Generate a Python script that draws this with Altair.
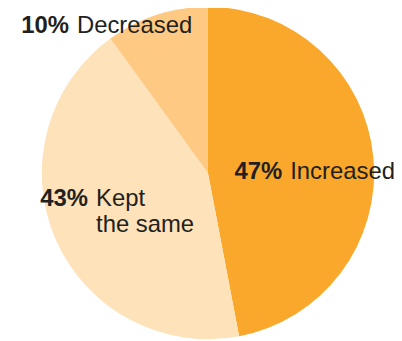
import altair as alt
import pandas as pd

categories = ["Increased", "Kept the same", "Decreased"]
values = [47, 43, 10]
pct_labels = ["47%", "43%", "10%"]
name_labels = ["Increased", "Kept\nthe same", "Decreased"]
colors = ["#F9A82C", "#FDE2BA", "#FDC983"]

df = pd.DataFrame({
    "category": categories,
    "value": values,
    "order": list(range(len(categories))),
    "pct": pct_labels,
    "name": name_labels,
})

W, H = 350, 330
FONT = "Liberation Sans"
TXT = "#231F20"

base = alt.Chart(df)

pie = base.mark_arc(outerRadius=167, stroke=None).encode(
    theta=alt.Theta("value:Q", stack=True),
    order=alt.Order("order:Q"),
    color=alt.Color("category:N", scale=alt.Scale(domain=categories, range=colors), legend=None),
)

stacked = base.transform_window(
    cum="sum(value)", sort=[alt.SortField("order")], frame=[None, 0]
).transform_calculate(
    mid="datum.cum - datum.value / 2"
)

# label placement: (category, radius, dx, dy)
placements = [
    ("Increased", 78, 1, 13),
    ("Kept the same", 115, -11, -13),
    ("Decreased", 148, -90, 0),
]

layers = [pie]
for cat, r, dx, dy in placements:
    sub = stacked.transform_filter(alt.datum.category == cat)
    theta = alt.Theta("mid:Q", scale=alt.Scale(domain=[0, 100], range=[0, 6.283185307]))
    bold = sub.mark_text(radius=r, dx=dx - 4, dy=dy, align="right", baseline="alphabetic",
                         font=FONT, fontSize=24, fontWeight="bold", color=TXT).encode(
        theta=theta, text="pct:N")
    reg = sub.mark_text(radius=r, dx=dx + 4, dy=dy, align="left", baseline="alphabetic",
                        font=FONT, fontSize=24, color=TXT, lineBreak="\n", lineHeight=27).encode(
        theta=theta, text="name:N")
    layers += [bold, reg]

chart = alt.layer(*layers).properties(
    width=W, height=H,
    padding={"left": 26, "top": 0, "right": 12, "bottom": 6},
    autosize=alt.AutoSizeParams(type="none"),
).configure_view(stroke=None)

chart.save("out.html", embed_options={"renderer": "svg", "actions": False})
